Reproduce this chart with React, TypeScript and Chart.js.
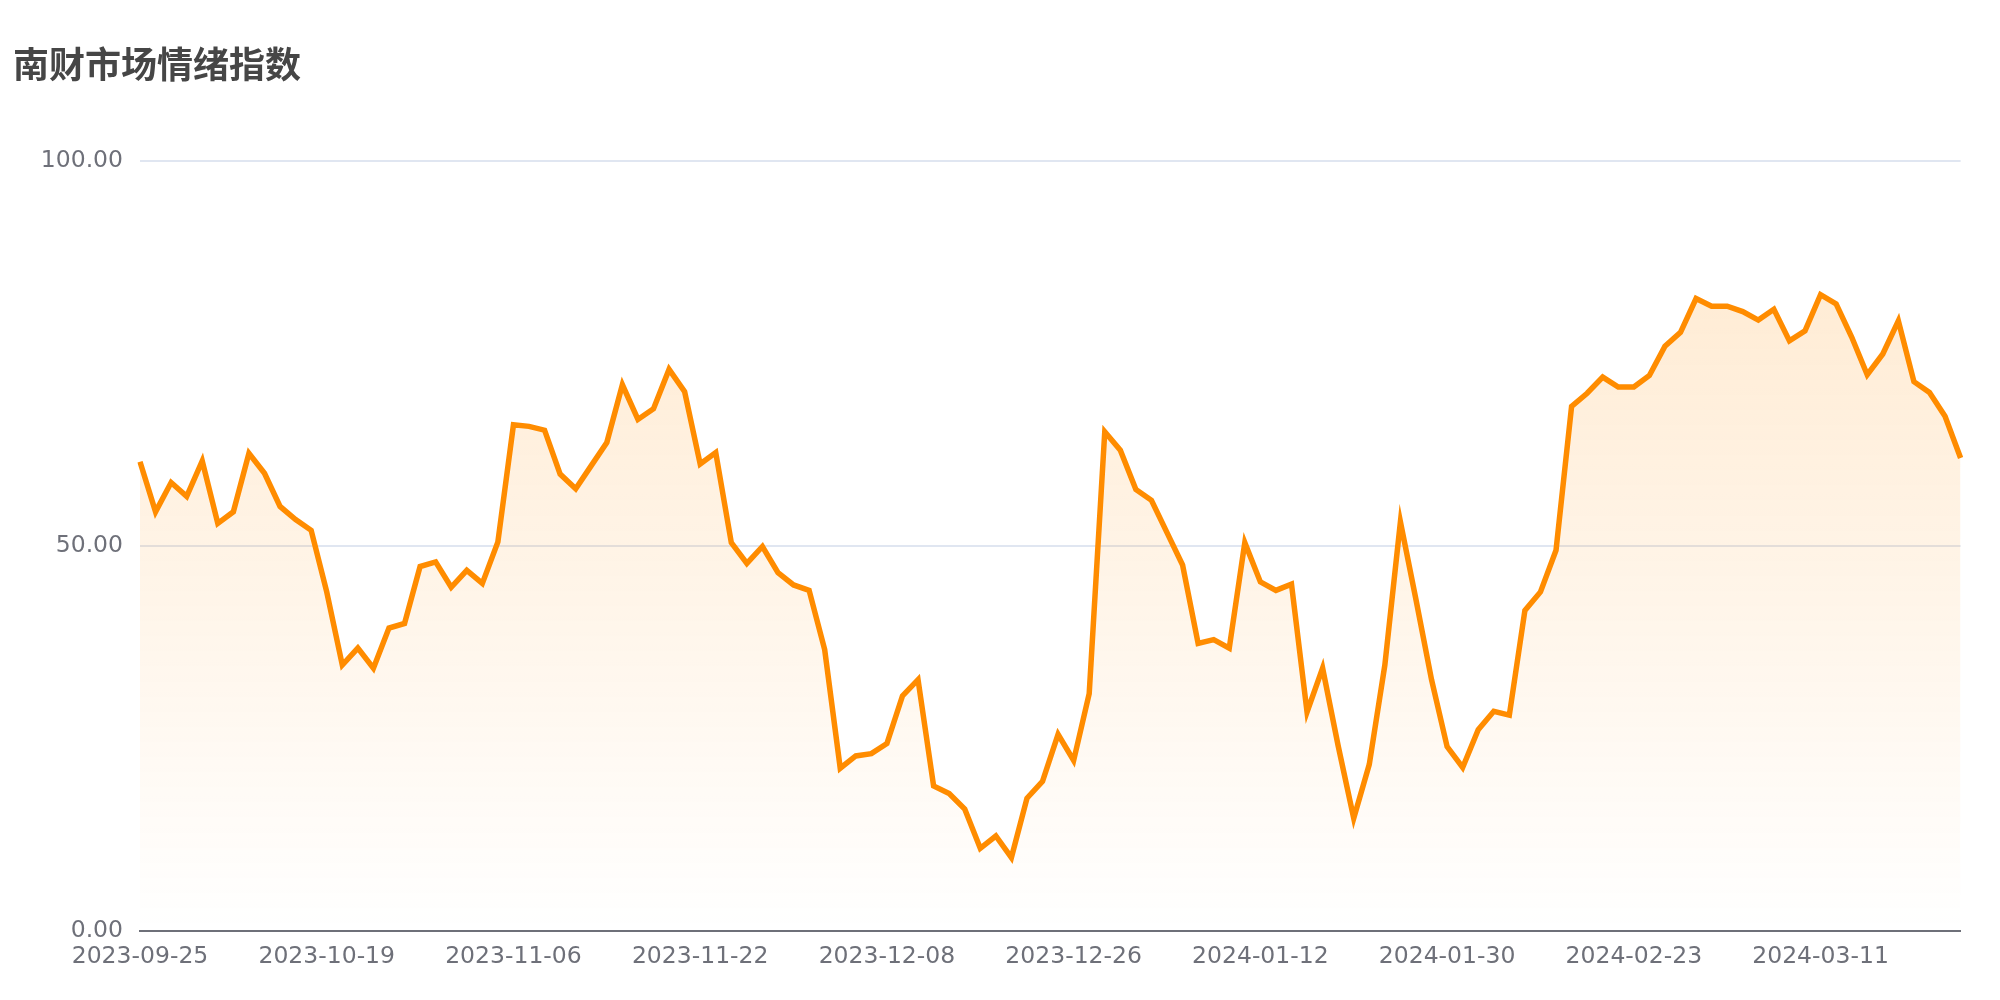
import React, { useEffect, useRef } from "react";
import { Chart, registerables } from "chart.js";

Chart.register(...registerables);

const TITLE = "南财市场情绪指数";

const dates: string[] = [
  "2023-09-25", "2023-09-26", "2023-09-27", "2023-09-28", "2023-10-09", "2023-10-10",
  "2023-10-11", "2023-10-12", "2023-10-13", "2023-10-16", "2023-10-17", "2023-10-18",
  "2023-10-19", "2023-10-20", "2023-10-23", "2023-10-24", "2023-10-25", "2023-10-26",
  "2023-10-27", "2023-10-30", "2023-10-31", "2023-11-01", "2023-11-02", "2023-11-03",
  "2023-11-06", "2023-11-07", "2023-11-08", "2023-11-09", "2023-11-10", "2023-11-13",
  "2023-11-14", "2023-11-15", "2023-11-16", "2023-11-17", "2023-11-20", "2023-11-21",
  "2023-11-22", "2023-11-23", "2023-11-24", "2023-11-27", "2023-11-28", "2023-11-29",
  "2023-11-30", "2023-12-01", "2023-12-04", "2023-12-05", "2023-12-06", "2023-12-07",
  "2023-12-08", "2023-12-11", "2023-12-12", "2023-12-13", "2023-12-14", "2023-12-15",
  "2023-12-18", "2023-12-19", "2023-12-20", "2023-12-21", "2023-12-22", "2023-12-25",
  "2023-12-26", "2023-12-27", "2023-12-28", "2023-12-29", "2024-01-02", "2024-01-03",
  "2024-01-04", "2024-01-05", "2024-01-08", "2024-01-09", "2024-01-10", "2024-01-11",
  "2024-01-12", "2024-01-15", "2024-01-16", "2024-01-17", "2024-01-18", "2024-01-19",
  "2024-01-22", "2024-01-23", "2024-01-24", "2024-01-25", "2024-01-26", "2024-01-29",
  "2024-01-30", "2024-01-31", "2024-02-01", "2024-02-02", "2024-02-05", "2024-02-06",
  "2024-02-07", "2024-02-08", "2024-02-19", "2024-02-20", "2024-02-21", "2024-02-22",
  "2024-02-23", "2024-02-26", "2024-02-27", "2024-02-28", "2024-02-29", "2024-03-01",
  "2024-03-04", "2024-03-05", "2024-03-06", "2024-03-07", "2024-03-08", "2024-03-09",
  "2024-03-11", "2024-03-12", "2024-03-13", "2024-03-14", "2024-03-15", "2024-03-18",
  "2024-03-19", "2024-03-20", "2024-03-21", "2024-03-22",
];

const sentiment: number[] = [
  60.9, 54.4, 58.2, 56.4, 61.0, 52.9, 54.4, 62.0, 59.4, 55.1,
  53.4, 52.0, 44.0, 34.5, 36.7, 34.1, 39.3, 39.9, 47.3, 47.9,
  44.6, 46.8, 45.1, 50.5, 65.7, 65.5, 65.0, 59.3, 57.4, 60.4,
  63.4, 70.9, 66.4, 67.8, 72.9, 70.0, 60.6, 62.1, 50.4, 47.7,
  49.9, 46.5, 44.9, 44.2, 36.5, 21.1, 22.7, 23.0, 24.3, 30.5,
  32.6, 18.8, 17.8, 15.8, 10.7, 12.3, 9.5, 17.2, 19.4, 25.5,
  22.1, 30.8, 64.8, 62.4, 57.3, 55.9, 51.7, 47.5, 37.3, 37.8,
  36.7, 50.4, 45.3, 44.2, 45.0, 28.4, 34.1, 24.0, 14.6, 21.6,
  34.5, 53.1, 43.0, 32.6, 23.9, 21.2, 26.1, 28.5, 28.0, 41.6,
  44.0, 49.4, 68.1, 69.8, 71.9, 70.6, 70.6, 72.1, 75.9, 77.7,
  82.1, 81.1, 81.1, 80.4, 79.3, 80.7, 76.6, 77.9, 82.6, 81.4,
  77.1, 72.2, 74.9, 79.2, 71.3, 69.9, 66.8, 61.4,
];

const yTicks: number[] = [0, 50, 100];
const LABEL_EVERY = 12;

export default function App() {
  const canvasRef = useRef<HTMLCanvasElement | null>(null);

  useEffect(() => {
    const canvas = canvasRef.current;
    if (!canvas) return;
    const chart = new Chart(canvas, {
      type: "line",
      data: {
        labels: dates,
        datasets: [
          {
            label: TITLE,
            data: sentiment,
            borderColor: "#ff8c00",
            borderWidth: 5.5,
            borderJoinStyle: "miter",
            pointRadius: 0,
            pointHoverRadius: 0,
            tension: 0,
            fill: "origin",
            backgroundColor: (ctx: any) => {
              const area = ctx.chart.chartArea;
              if (!area) return "rgba(255,140,0,0.12)";
              const g = ctx.chart.ctx.createLinearGradient(0, area.top, 0, area.bottom);
              g.addColorStop(0, "rgba(255,140,0,0.2)");
              g.addColorStop(1, "rgba(255,140,0,0)");
              return g;
            },
          },
        ],
      },
      options: {
        responsive: false,
        animation: false,
        events: [],
        layout: { padding: { left: 13, right: 39.4, top: 0, bottom: 0 } },
        plugins: {
          legend: { display: false },
          tooltip: { enabled: false },
          title: {
            display: true,
            text: TITLE,
            align: "start",
            color: "#464646",
            font: { family: "'Noto Sans CJK SC', sans-serif", size: 36, weight: "bold" },
            padding: { top: 42.4, bottom: 75.1 },
          },
        },
        scales: {
          x: {
            type: "category",
            grid: { display: false, drawTicks: false },
            border: { display: true, color: "#6e7079", width: 2 },
            afterFit: (scale: any) => {
              scale.height = 69.3;
            },
            ticks: {
              autoSkip: false,
              maxRotation: 0,
              minRotation: 0,
              padding: 12,
              color: "#6e7079",
              font: { family: "'DejaVu Sans', sans-serif", size: 23.5 },
              callback: (_v: any, i: number) => (i % LABEL_EVERY === 0 ? dates[i] : ""),
            },
          },
          y: {
            min: yTicks[0],
            max: yTicks[yTicks.length - 1],
            grid: { color: "#e0e6f1", lineWidth: 2, drawTicks: false },
            border: { display: false },
            afterFit: (scale: any) => {
              scale.width = 127;
            },
            afterBuildTicks: (scale: any) => {
              scale.ticks = yTicks.map((v) => ({ value: v }));
            },
            ticks: {
              padding: 17,
              color: "#6e7079",
              font: { family: "'DejaVu Sans', sans-serif", size: 23.5 },
              callback: (v: any) => Number(v).toFixed(2),
            },
          },
        },
      },
    });
    return () => chart.destroy();
  }, []);

  return (
    <div style={{ position: "absolute", left: 0, top: 0, width: 2000, height: 1000, background: "#ffffff" }}>
      <canvas ref={canvasRef} width={2000} height={1000} style={{ display: "block" }} />
    </div>
  );
}
